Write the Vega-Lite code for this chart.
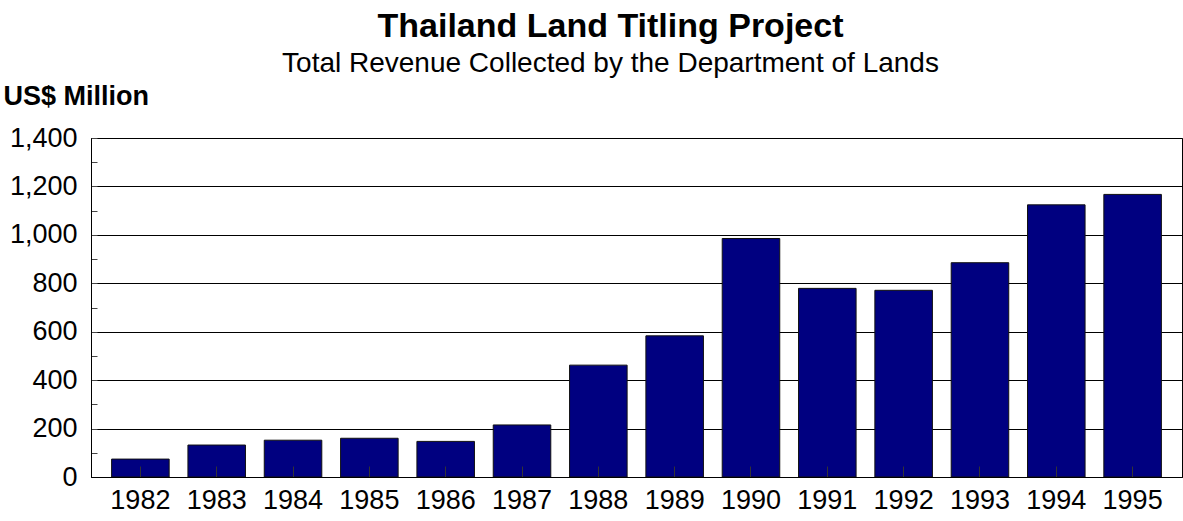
{
  "$schema": "https://vega.github.io/schema/vega-lite/v6.json",
  "width": 1091,
  "height": 339,
  "autosize": {"type": "none"},
  "padding": {"left": 91, "top": 138, "right": 1, "bottom": 44},
  "background": "white",
  "title": {
    "text": "Thailand Land Titling Project",
    "subtitle": "Total Revenue Collected by the Department of Lands",
    "anchor": "middle",
    "dx": -26,
    "font": "Liberation Sans",
    "fontSize": 34,
    "fontWeight": "bold",
    "color": "black",
    "subtitleFont": "Liberation Sans",
    "subtitleFontSize": 28,
    "subtitleColor": "black",
    "subtitlePadding": 6,
    "offset": 4
  },
  "config": {
    "view": {"stroke": "black", "strokeWidth": 1},
    "axis": {"labelFont": "Liberation Sans", "titleFont": "Liberation Sans", "labelColor": "black", "titleColor": "black"}
  },
  "data": {
    "values": [
      {"year": "1982", "revenue": 74},
      {"year": "1983", "revenue": 132},
      {"year": "1984", "revenue": 152},
      {"year": "1985", "revenue": 160},
      {"year": "1986", "revenue": 147},
      {"year": "1987", "revenue": 215},
      {"year": "1988", "revenue": 462},
      {"year": "1989", "revenue": 583},
      {"year": "1990", "revenue": 985},
      {"year": "1991", "revenue": 779},
      {"year": "1992", "revenue": 771},
      {"year": "1993", "revenue": 885},
      {"year": "1994", "revenue": 1124},
      {"year": "1995", "revenue": 1167}
    ]
  },
  "mark": {"type": "bar", "fill": "#000080", "stroke": "#111111", "strokeWidth": 1},
  "encoding": {
    "x": {
      "field": "year",
      "type": "ordinal",
      "scale": {"paddingInner": 0.246, "paddingOuter": 0.27},
      "axis": {
        "title": null,
        "labelAngle": 0,
        "labelFontSize": 27,
        "labelPadding": 21,
        "tickSize": -11,
        "tickColor": "#333333",
        "domainColor": "black",
        "zindex": 1
      }
    },
    "y": {
      "field": "revenue",
      "type": "quantitative",
      "scale": {"domain": [0, 1400], "nice": false},
      "axis": {
        "title": "US$ Million",
        "titleAngle": 0,
        "titleAlign": "left",
        "titleBaseline": "alphabetic",
        "titleX": -88,
        "titleY": -34,
        "titleFontSize": 27,
        "titleFontWeight": "bold",
        "values": [0, 100, 200, 300, 400, 500, 600, 700, 800, 900, 1000, 1100, 1200, 1300, 1400],
        "labelExpr": "datum.value % 200 == 0 ? format(datum.value, ',') : ''",
        "labelFontSize": 27,
        "labelPadding": 20,
        "tickSize": -6,
        "tickColor": "#444444",
        "domainColor": "black",
        "grid": true,
        "gridColor": "black",
        "gridOpacity": {"condition": {"test": "datum.value % 200 == 0", "value": 1}, "value": 0}
      }
    }
  }
}
